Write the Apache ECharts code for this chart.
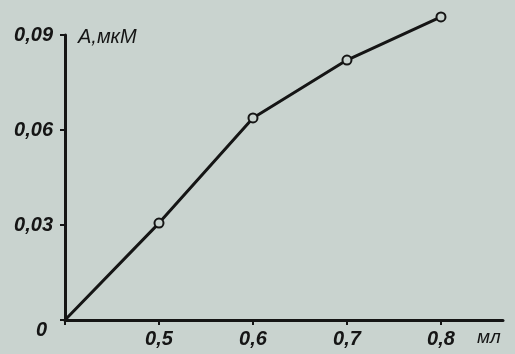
<!DOCTYPE html>
<html>
<head>
<meta charset="utf-8">
<script src="https://cdn.jsdelivr.net/npm/echarts@6/dist/echarts.min.js"></script>
<style>
  html, body { margin: 0; padding: 0; background: #c9d3cf; }
  #chart { width: 515px; height: 354px; }
</style>
</head>
<body>
<div id="chart"></div>
<script>
// volume, ml (0.4 is the corner of the broken axis, labelled 0)
const volume = [0.4, 0.5, 0.6, 0.7, 0.8];
// A, µM
const amount = [0, 0.0306, 0.0638, 0.0821, 0.0957];

const ink = '#151515';
const paper = '#c9d3cf';
const font = {
  fontFamily: 'Liberation Sans, sans-serif',
  fontStyle: 'italic',
  fontWeight: 'bold',
  fontSize: 20,
  color: ink,
};

const points = volume.map((v, i) => ({
  value: [v, amount[i]],
  symbol: i === 0 ? 'none' : 'circle',
}));

const chart = echarts.init(document.getElementById('chart'));

chart.setOption({
  backgroundColor: paper,
  animation: false,
  grid: { left: 65, right: 12, top: 35, bottom: 34, containLabel: false },
  xAxis: {
    type: 'value',
    min: 0.4,
    max: 0.866,
    interval: 0.1,
    name: 'мл',
    nameLocation: 'end',
    nameGap: -26,
    nameTextStyle: Object.assign({}, font, {
      fontWeight: 'normal', fontSize: 19, verticalAlign: 'top', align: 'left', padding: [8, 0, 0, 0],
    }),
    axisLine: { lineStyle: { color: ink, width: 3 } },
    axisTick: { show: true, length: 5, lineStyle: { color: ink, width: 2 } },
    axisLabel: Object.assign({}, font, {
      margin: 9,
      showMaxLabel: false,
      formatter: v => (Math.abs(v - 0.4) < 1e-6 || v > 0.85 ? '' : v.toFixed(1).replace('.', ',')),
    }),
    splitLine: { show: false },
  },
  yAxis: {
    type: 'value',
    min: 0,
    max: 0.09,
    interval: 0.03,
    name: 'A,мкМ',
    nameLocation: 'end',
    nameGap: 0,
    nameTextStyle: Object.assign({}, font, {
      fontWeight: 'normal', fontSize: 20, align: 'left', padding: [0, 0, -12, 13],
    }),
    axisLine: { show: true, lineStyle: { color: ink, width: 3 } },
    axisTick: { show: true, length: 5, lineStyle: { color: ink, width: 2 } },
    axisLabel: Object.assign({}, font, {
      margin: 12,
      formatter: v => (v === 0 ? '{z|0}' : v.toFixed(2).replace('.', ',')),
      rich: { z: Object.assign({}, font, { padding: [20, 6, 0, 0] }) },
    }),
    splitLine: { show: false },
  },
  series: [
    {
      type: 'line',
      data: points,
      clip: false,
      symbolSize: 9,
      lineStyle: { color: ink, width: 3 },
      itemStyle: { color: paper, borderColor: ink, borderWidth: 2 },
    },
  ],
});
</script>
</body>
</html>
